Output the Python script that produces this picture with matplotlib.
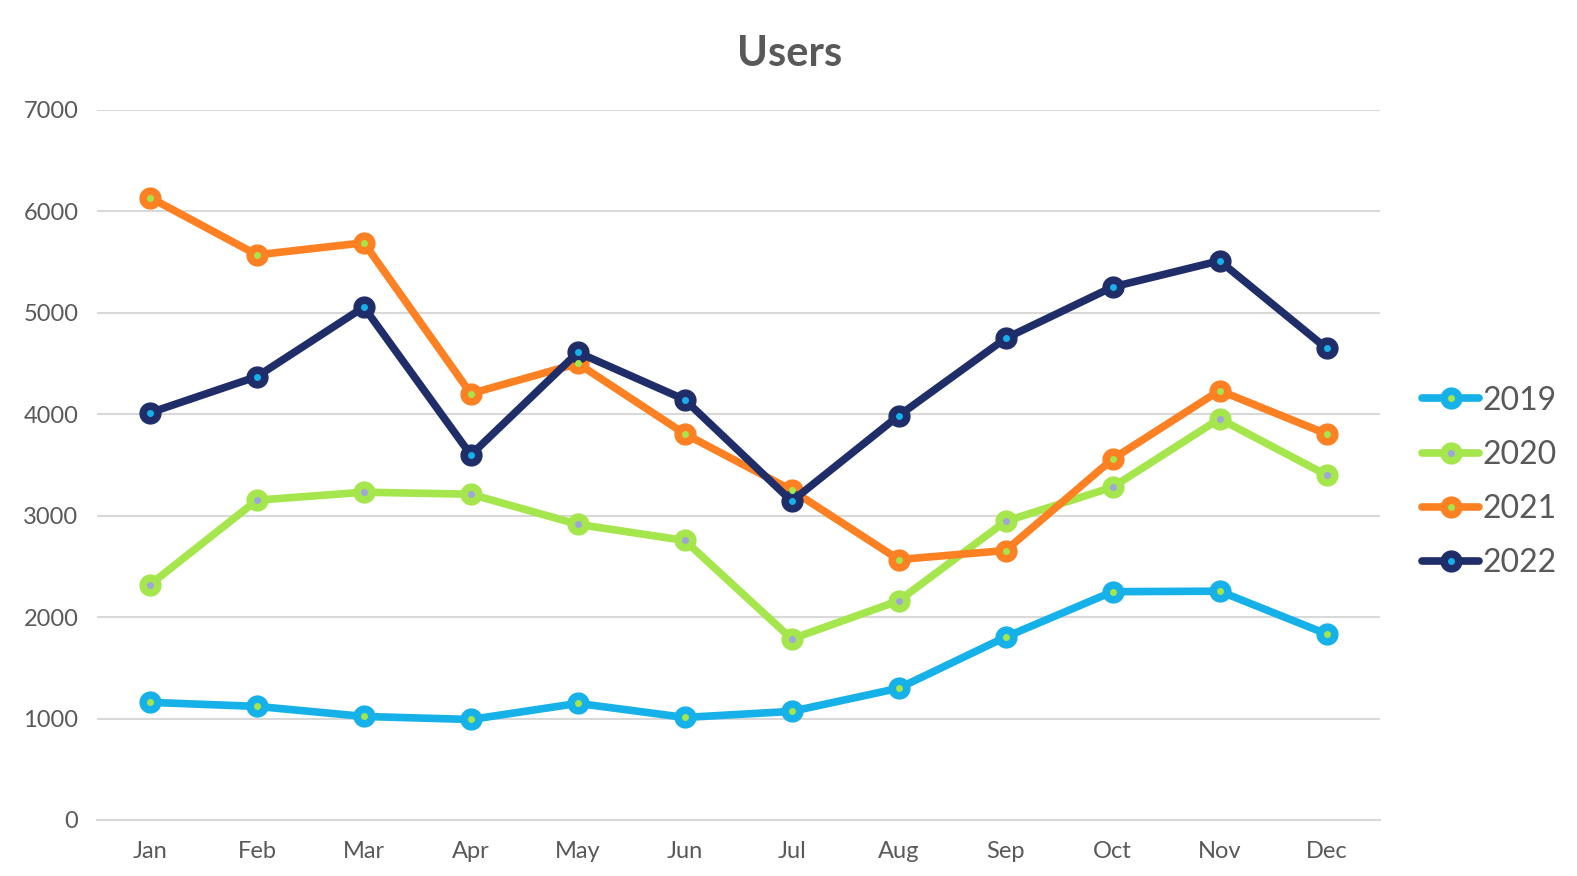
import matplotlib
matplotlib.use("Agg")
import matplotlib.pyplot as plt
from matplotlib.lines import Line2D
from matplotlib.legend_handler import HandlerTuple

months = ["Jan", "Feb", "Mar", "Apr", "May", "Jun", "Jul", "Aug", "Sep", "Oct", "Nov", "Dec"]
users_2019 = [1160, 1120, 1021, 991, 1150, 1011, 1071, 1299, 1804, 2251, 2256, 1834]
users_2020 = [2320, 3153, 3232, 3212, 2915, 2756, 1785, 2161, 2945, 3282, 3956, 3401]
users_2021 = [6137, 5572, 5691, 4204, 4501, 3807, 3252, 2568, 2657, 3559, 4234, 3807]
users_2022 = [4015, 4372, 5057, 3599, 4610, 4144, 3143, 3986, 4749, 5255, 5513, 4650]
series_names = ["2019", "2020", "2021", "2022"]

series = [users_2019, users_2020, users_2021, users_2022]
colors = ["#16B1E9", "#A5E64C", "#FD8123", "#1F2D69"]
inner = ["#A5E64C", "#9FA6DA", "#A5E64C", "#16B1E9"]

plt.rcParams['font.family'] = ['Lato', 'DejaVu Sans']

fig = plt.figure(figsize=(15.77, 8.76), dpi=100)
ax = fig.add_axes([96.5/1577, (876-820)/876, (1380-96.5)/1577, (820-110)/876])

x = list(range(len(months)))
handles = []
for vals, c, ic, name in zip(series, colors, inner, series_names):
    ax.plot(x, vals, color=c, lw=5.5, marker='o', markersize=15,
            markerfacecolor=c, markeredgecolor=c, solid_capstyle='round', zorder=3)
    ax.plot(x, vals, ls='none', marker='o', markersize=4, color=ic, zorder=4)
    h1 = Line2D([], [], color=c, lw=5.5, marker='o', markersize=15, solid_capstyle='round')
    h2 = Line2D([], [], ls='none', marker='o', markersize=4, color=ic)
    handles.append((h1, h2))

ax.set_xlim(-0.5, 11.5)
ax.set_ylim(0, 7000)
ax.set_yticks(range(0, 7001, 1000))
ax.set_xticks(x)
ax.set_xticklabels(months)
ax.grid(axis='y', color='#D9D9D9', lw=1.5)
ax.set_axisbelow(True)
for s in ['top', 'right', 'left']:
    ax.spines[s].set_visible(False)
ax.spines['bottom'].set_color('#D9D9D9')
ax.spines['bottom'].set_linewidth(1.5)
ax.tick_params(axis='both', length=0, labelsize=17, colors='#595959')
ax.tick_params(axis='x', pad=15)
ax.tick_params(axis='y', pad=13)

fig.text(790/1577, 1 - 54/876, "Users", ha='center', va='center',
         fontsize=30, fontweight='bold', color='#595959')

leg = fig.legend(handles, series_names, handler_map={tuple: HandlerTuple(ndivide=1)},
                 loc='center left', bbox_to_anchor=(1393/1577, 1 - 482/876),
                 frameon=False, fontsize=23, labelcolor='#595959',
                 handlelength=1.8, handletextpad=0.1, labelspacing=0.76)

fig.savefig("out.png", dpi=100, facecolor='white')
